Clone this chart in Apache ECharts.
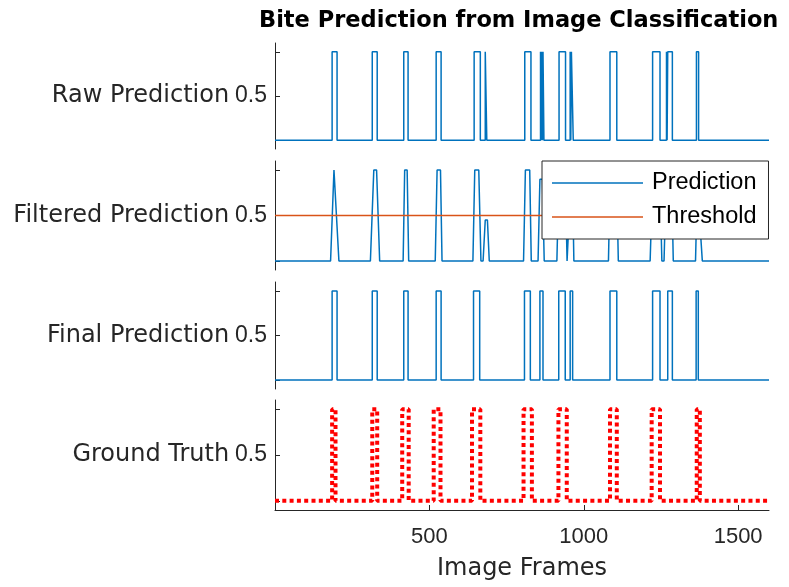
<!DOCTYPE html>
<html>
<head>
<meta charset="utf-8">
<script src="https://cdn.jsdelivr.net/npm/echarts@6/dist/echarts.min.js"></script>
<style>
html,body{margin:0;padding:0;background:#fff;}
#chart{width:789px;height:587px;}
</style>
</head>
<body>
<div id="chart"></div>
<script>
// ---- data (frames) ----
const xMin = 0, xMax = 1600;
const panelNames = ['Raw Prediction', 'Filtered Prediction', 'Final Prediction', 'Ground Truth'];
const xTickValues = [500, 1000, 1500];
const yTickValues = [0, 0.5, 1];
const yLabelValues = [0.5];
const threshold = 0.5;

// pulses as [start, end] frames (value 1 inside, 0 outside)
const rawPulses = [[185,201],[315,331],[417,431],[522,538],[645,665],[681,686],[809,829],
  [860,862],[864,866],[868,871],[920,941],[956,958],[960,966],[1085,1107],[1223,1247],
  [1268,1270],[1272,1287],[1365,1372]];
const finalPulses = [[185,201],[315,331],[417,431],[522,538],[643,663],[808,827],[858,868],
  [919,940],[956,964],[1085,1107],[1223,1247],[1272,1287],[1364,1371]];
const truthPulses = [[185,196],[315,331],[412,433],[514,536],[638,665],[805,832],[918,945],
  [1085,1107],[1220,1247],[1366,1376]];

// filtered prediction keypoints
const filteredX = [0,
  180,191,197,207,
  309,320,329,339,
  415,420,428,433,
  519,525,536,541,
  641,647,660,667,
  674,681,688,694,
  805,811,825,830,
  852,858,866,872,
  913,920,940,946,
  950,957,964,968,
  1080,1086,1106,1112,
  1215,1224,1246,1253,
  1260,1268,1284,1290,
  1362,1368,1373,1384,
  1600];
const filteredY = [0,
  0,1,1,0,
  0,1,1,0,
  0,1,1,0,
  0,1,1,0,
  0,1,1,0,
  0,0.45,0.45,0,
  0,1,1,0,
  0,0.9,0.9,0,
  0,1,1,0,
  0,0.8,0.8,0,
  0,1,1,0,
  0,1,1,0,
  0,1,1,0,
  0,0.85,0.85,0,
  0];

// ---- build ----
function stepLine(pulses){
  const pts = [[xMin,0]];
  pulses.forEach(([a,b]) => { pts.push([a,0],[a,1],[b,1],[b,0]); });
  pts.push([xMax,0]);
  return pts;
}
const filteredData = filteredX.map((x,i) => [x, filteredY[i]]);

const axisColor = '#262626';
const blue = '#0072BD', orange = '#D95319', red = '#FF0000';

const grids = [
  {left:275, width:494, top:43, height:106},
  {left:275, width:494, top:161, height:109},
  {left:275, width:494, top:282, height:107},
  {left:275, width:494, top:400, height:110}
];

const xAxes = grids.map((g,i) => ({
  type:'value', gridIndex:i, min:xMin, max:xMax, interval:500,
  show: i === 3,
  axisLine:{show:true, onZero:false, lineStyle:{color:axisColor, width:1}},
  axisTick:{show:true, inside:true, length:5, customValues:xTickValues, lineStyle:{color:axisColor}},
  axisLabel:{show:true, customValues:xTickValues, margin:16, color:axisColor,
    fontFamily:'Liberation Sans', fontSize:22, formatter:(v) => String(v)},
  splitLine:{show:false},
  name: i === 3 ? 'Image Frames' : '',
  nameLocation:'middle', nameGap:47,
  nameTextStyle:{fontFamily:'DejaVu Sans', fontSize:24, color:axisColor}
}));

const yAxes = grids.map((g,i) => ({
  type:'value', gridIndex:i, min:-0.1, max:1.1,
  axisLine:{show:true, lineStyle:{color:axisColor, width:1}},
  axisTick:{show:true, inside:true, length:5, customValues:yTickValues, lineStyle:{color:axisColor}},
  axisLabel:{show:true, customValues:yLabelValues, margin:8, color:axisColor,
    fontFamily:'Liberation Sans', fontSize:23, formatter:(v) => String(v)},
  splitLine:{show:false},
  name: panelNames[i], nameLocation:'middle', nameRotate:0, nameGap:45,
  nameTextStyle:{fontFamily:'DejaVu Sans', fontSize:24, color:axisColor}
}));

const lineBase = {type:'line', symbol:'none', showSymbol:false, animation:false, smooth:false};

const option = {
  animation:false,
  backgroundColor:'#fff',
  title:{
    text:'Bite Prediction from Image Classification',
    left:259, top:10, padding:0,
    textStyle:{fontFamily:'DejaVu Sans', fontWeight:'bold', fontSize:22.5, color:'#000'}
  },
  legend:{
    data:['Prediction','Threshold'],
    orient:'vertical', left:542, top:161,
    padding:[10,12,10,10], itemGap:10, itemWidth:91, itemHeight:1.5, icon:'rect',
    backgroundColor:'#fff', borderColor:axisColor, borderWidth:1, borderRadius:0,
    textStyle:{fontFamily:'Liberation Sans', fontSize:23.5, color:'#000', padding:[0,0,0,4]},
    selectedMode:false
  },
  grid:grids,
  xAxis:xAxes,
  yAxis:yAxes,
  series:[
    Object.assign({}, lineBase, {name:'Raw', xAxisIndex:0, yAxisIndex:0, data:stepLine(rawPulses),
      lineStyle:{color:blue, width:1.5}, itemStyle:{color:blue}}),
    Object.assign({}, lineBase, {name:'Prediction', xAxisIndex:1, yAxisIndex:1, data:filteredData,
      lineStyle:{color:blue, width:1.5}, itemStyle:{color:blue}}),
    Object.assign({}, lineBase, {name:'Threshold', xAxisIndex:1, yAxisIndex:1,
      data:[[xMin,threshold],[xMax,threshold]],
      lineStyle:{color:orange, width:1.5}, itemStyle:{color:orange}}),
    Object.assign({}, lineBase, {name:'Final', xAxisIndex:2, yAxisIndex:2, data:stepLine(finalPulses),
      lineStyle:{color:blue, width:1.5}, itemStyle:{color:blue}}),
    Object.assign({}, lineBase, {name:'Ground Truth', xAxisIndex:3, yAxisIndex:3, data:stepLine(truthPulses),
      lineStyle:{color:red, width:4, type:[4,3.3], cap:'butt'}, itemStyle:{color:red}})
  ]
};

const chart = echarts.init(document.getElementById('chart'), null, {renderer:'canvas'});
chart.setOption(option);
</script>
</body>
</html>
